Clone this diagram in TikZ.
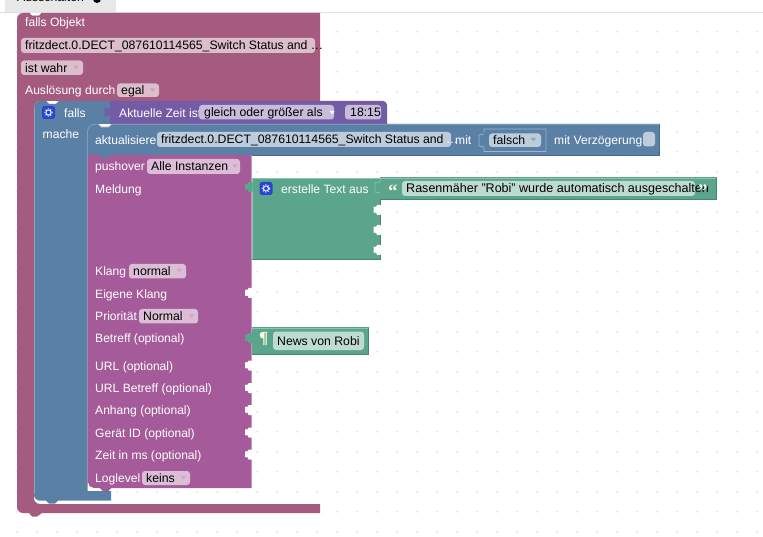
\documentclass[tikz,border=0pt]{standalone}
\usepackage{fontspec}
\setmainfont{Liberation Sans}
\definecolor{cred}{HTML}{A55B80}
\definecolor{cblue}{HTML}{5B80A5}
\definecolor{cval}{HTML}{745BA5}
\definecolor{cgreen}{HTML}{5BA58C}
\definecolor{cpush}{HTML}{A55B99}
\definecolor{fred}{HTML}{DBBDCC}
\definecolor{fblue}{HTML}{BDCCDB}
\definecolor{fval}{HTML}{C7BDDB}
\definecolor{fgreen}{HTML}{BDDBD1}
\definecolor{fpush}{HTML}{DBBDD6}
\definecolor{hgreen}{HTML}{8CC4B0}
\definecolor{dgreen}{HTML}{468672}
\definecolor{hblue}{HTML}{8CA6C0}
\definecolor{dblue}{HTML}{486A8C}
\definecolor{iconblue}{HTML}{2A46D0}
\tikzset{
  wt/.style={anchor=base west,inner sep=0pt,text=white,font=\fontsize{12.1}{14}\selectfont},
  bt/.style={anchor=base west,inner sep=0pt,text=black,font=\fontsize{12.25}{14}\selectfont},
  longt/.style={anchor=base west,inner sep=0pt,text=black,font=\fontsize{12.55}{14}\selectfont},
  fieldbox/.style={rounded corners=3pt},
  griddot/.style={fill=black!14},
}
% name, x, y-centre, text
\newcommand{\wlab}[4]{\node[wt] (#1) at (#2,#3+4.8) {#4};}
% name, colour, x1, x2, y1, y2, textx, text
\newcommand{\fld}[8]{\fill[fieldbox,#2] (#3,#5) rectangle (#4,#6);
  \node[bt] (#1) at (#7,{(#5+#6)/2+4.3}) {#8};}
\newcommand{\ddtri}[3]{\fill[#3] (#1-2.5,#2-1.5) -- (#1+2.5,#2-1.5) -- (#1,#2+2) -- cycle;}
% socket / tab on a right-hand edge at x, centred y
\newcommand{\tabshape}[3]{\fill[#3,rounded corners=0.8pt] (#1+0.5,#2-5) -- (#1-4,#2-5) -- (#1-4,#2-3) -- (#1-7,#2-3.5) -- (#1-7,#2+3) -- (#1-4,#2+2.5) -- (#1-4,#2+5) -- (#1+0.5,#2+5) -- cycle;}
\newcommand{\gearicon}[2]{\fill[rounded corners=2.5pt,iconblue] (#1-6.5,#2-6.5) rectangle (#1+6.5,#2+6.5);
  \draw[white!85!iconblue,line width=1.1pt] (#1,#2) circle (2.6);
  \draw[white!85!iconblue,line width=0.9pt,dash pattern=on 1.2pt off 1.5pt] (#1,#2) circle (3.7);}
\begin{document}
\begin{tikzpicture}[x=1pt,y=-1pt]
\useasboundingbox (0,0) rectangle (763,537);
\fill[white] (0,0) rectangle (763,537);
% grid
\foreach \gx in {17,37,...,757}{\foreach \gy in {31.7,51.7,...,531.7}{\fill[griddot] (\gx,\gy) circle (0.9);}}
% top tab
\draw[black!12,line width=0.8pt] (0,12.3) -- (763,12.3);
\fill[black!9] (5,-3) rectangle (115.5,12);
\node[bt] (tabname) at (17,2) {Ausschalten};
\fill[black] (97,-1) circle (4) coordinate (tabdot);
% outer red block
\fill[cred] (23,13) -- (30,13) -- (32,15.5) -- (39,15.5) -- (41,13) -- (320,13) -- (320,101) -- (40,101)
  arc[start angle=-90,end angle=-180,radius=6] -- (34,498) arc[start angle=180,end angle=90,radius=6]
  -- (320,504) -- (320,513) -- (42,513) -- (37,516.5) -- (32,516.5) -- (29,513) -- (23,513)
  arc[start angle=90,end angle=180,radius=6] -- (17,19) arc[start angle=180,end angle=270,radius=6] -- cycle;
\fill[white] (30,13) -- (32,15.5) -- (39,15.5) -- (41,13) -- cycle;
% blue block
\fill[cblue] (40,101) -- (46,101) -- (49,104) -- (56,104) -- (59,101) -- (111,101) -- (111,124) -- (93,124)
  -- (87.5,130) -- (87.5,491) -- (111,491) -- (111,500.7) -- (58,500.7) -- (55,503.5) -- (49,503.5) -- (46,500.7) -- (40,500.7)
  arc[start angle=90,end angle=180,radius=6] -- (34,107) arc[start angle=180,end angle=270,radius=6] -- cycle;
\draw[hblue,line width=0.5pt] (34.3,107) -- (34.3,494);
% condition block
\fill[cval] (110,101) -- (383,101) arc[start angle=-90,end angle=0,radius=4] -- (387,124) -- (110,124) -- (110,115) -- (104.5,117) -- (104.5,107.5) -- (110,109) -- cycle;
% action block
\fill[cblue] (93,124) -- (98,124) -- (101,127) -- (109,127) -- (112,124) -- (659.5,124) -- (659.5,155) -- (87.5,155) -- (87.5,130) arc[start angle=180,end angle=270,radius=5.5] -- cycle;
\draw[hblue,line width=0.6pt] (87.7,130) arc[start angle=180,end angle=270,radius=5.5] -- (98,124.3) -- (101,127.3) -- (109,127.3) -- (112,124.3) -- (659.5,124.3);
\draw[dblue,line width=0.6pt] (659.5,124) -- (659.5,155) -- (252,155);
% pushover block
\fill[cpush] (87.5,155) -- (251.5,155) -- (251.5,488) -- (111,488) -- (108,491) -- (103,491) -- (100,488) -- (93,488)
  arc[start angle=90,end angle=180,radius=5.5] -- cycle;
\fill[white] (88,482.5) arc[start angle=180,end angle=90,radius=5.5] -- (100,488) -- (103,491) -- (88,491) -- cycle;
\fill[cblue] (87.5,490.6) rectangle (103,491.5);
\fill[cpush] (100,488) -- (103,491) -- (108,491) -- (111,488) -- cycle;
\fill[cblue] (100,155) -- (103,158) -- (108,158) -- (111,155) -- cycle;
% sockets on pushover
\foreach \sy in {293,365.5,388,410,432.5,454.5}{\tabshape{252}{\sy}{white}}
% green text block
\fill[cgreen] (252,177.7) rectangle (380,259.3);
\fill[cgreen] (380,177.5) rectangle (716.7,199.5);
\draw[hgreen,line width=0.7pt] (252,178) -- (716.7,178);
\draw[hgreen,line width=0.6pt] (252.3,178) -- (252.3,259);
\draw[dgreen,line width=0.7pt] (252,259.3) -- (380,259.3) -- (380,199.5);
\draw[dgreen,line width=0.7pt] (380,199.5) -- (716.7,199.5) -- (716.7,178);
\tabshape{252}{187}{cgreen}
\foreach \sy in {210,230,250}{\tabshape{380.5}{\sy}{white}}
\draw[hgreen,line width=0.7pt] (380,178) -- (380,182) -- (375,182.5) -- (375,192) -- (380,193);
% news block
\fill[cgreen] (252,327.5) rectangle (368.5,354.5);
\draw[hgreen,line width=0.7pt] (252,328) -- (368.5,328);
\draw[dgreen,line width=0.7pt] (252,354.5) -- (368.5,354.5) -- (368.5,328);
\tabshape{252}{338}{cgreen}
% red block contents
\wlab{t1}{25}{22}{falls Objekt}
\fld{f1}{fred}{21}{315}{38}{53}{25}{fritzdect.0.DECT\_087610114565\_Switch Status and …}
\fld{f2}{fred}{21}{83}{60.5}{75}{25}{ist wahr}
\ddtri{76}{67.5}{cred!55!white}
\wlab{t2}{25}{90}{Auslösung durch}
\fld{f3}{fred}{117}{159}{83.5}{97}{121}{egal}
\ddtri{152.5}{90}{cred!55!white}
% blue contents
\gearicon{48.5}{112.5}
\wlab{t3}{64}{113}{falls}
\wlab{t4}{42.5}{134}{mache}
% condition contents
\wlab{t5}{119}{113}{Aktuelle Zeit ist}
\fld{f4}{fval}{199}{334}{105}{119.5}{204}{gleich oder größer als}
\ddtri{332}{112.5}{white}
\fld{f5}{fval}{345}{381}{105}{119.5}{350}{18:15}
% action contents
\wlab{t6}{95}{139.5}{aktualisiere}
\fld{f6}{fblue}{157}{451}{132}{147}{161}{fritzdect.0.DECT\_087610114565\_Switch Status and}
\node[wt] (t7) at (446,143.8) {…};
\wlab{t8}{455}{139.5}{mit}
\draw[fblue!70!cblue,line width=0.7pt] (484,132) -- (484,129) -- (546,129) -- (546,151.5) -- (484,151.5) -- (484,147) -- (479,146) -- (479,135) -- (484,134);
\fld{f7}{fblue}{489}{541}{133.5}{147}{493}{falsch}
\ddtri{533.5}{139.5}{cblue!70!white}
\wlab{t9}{554}{139.5}{mit Verzögerung}
\fill[fieldbox,fblue] (643,132) rectangle (655,146.5) coordinate (chk);
% pushover contents
\wlab{t10}{95}{166}{pushover}
\fld{f8}{fpush}{147}{240}{159}{174}{151}{Alle Instanzen}
\ddtri{235}{166}{cpush!55!white}
\wlab{t11}{95}{188.5}{Meldung}
\wlab{t12}{95}{270.5}{Klang}
\fld{f9}{fpush}{129}{186}{264}{278.5}{133}{normal}
\ddtri{179.5}{270.5}{cpush!55!white}
\wlab{t13}{95}{293.5}{Eigene Klang}
\wlab{t14}{95}{316}{Priorität}
\fld{f10}{fpush}{139}{198}{309}{323.5}{143}{Normal}
\ddtri{191.5}{316}{cpush!55!white}
\wlab{t15}{95}{338}{Betreff (optional)}
\wlab{t16}{95}{366}{URL (optional)}
\wlab{t17}{95}{388}{URL Betreff (optional)}
\wlab{t18}{95}{410}{Anhang (optional)}
\wlab{t19}{95}{432.5}{Gerät ID (optional)}
\wlab{t20}{95}{454.5}{Zeit in ms (optional)}
\wlab{t21}{95}{477.5}{Loglevel}
\fld{f11}{fpush}{142}{190}{471}{485}{146}{keins}
\ddtri{183.5}{477.5}{cpush!55!white}
% green contents
\gearicon{266}{188.5}
\wlab{t22}{281}{188.5}{erstelle Text aus}
\node[anchor=base west,inner sep=0pt,text=white!90!yellow,font=\fontsize{19}{20}\selectfont\bfseries\fontspec{Liberation Serif}] (q1) at (388,198) {“};
\fill[fieldbox,fgreen] (402,181) rectangle (695,196);
\node[longt] (f12) at (406,192.8) {Rasenmäher "Robi" wurde automatisch ausgeschalten};
\node[anchor=base west,inner sep=0pt,text=white!90!yellow,font=\fontsize{19}{20}\selectfont\bfseries\fontspec{Liberation Serif}] (q2) at (698,198) {”};
\node[anchor=base west,inner sep=0pt,text=white!90!yellow,font=\fontsize{17}{20}\selectfont\bfseries\fontspec{Liberation Serif}] (q3) at (259,344) {¶};
\fld{f13}{fgreen}{273}{364}{331.5}{350}{277}{News von Robi}
\end{tikzpicture}
\end{document}
